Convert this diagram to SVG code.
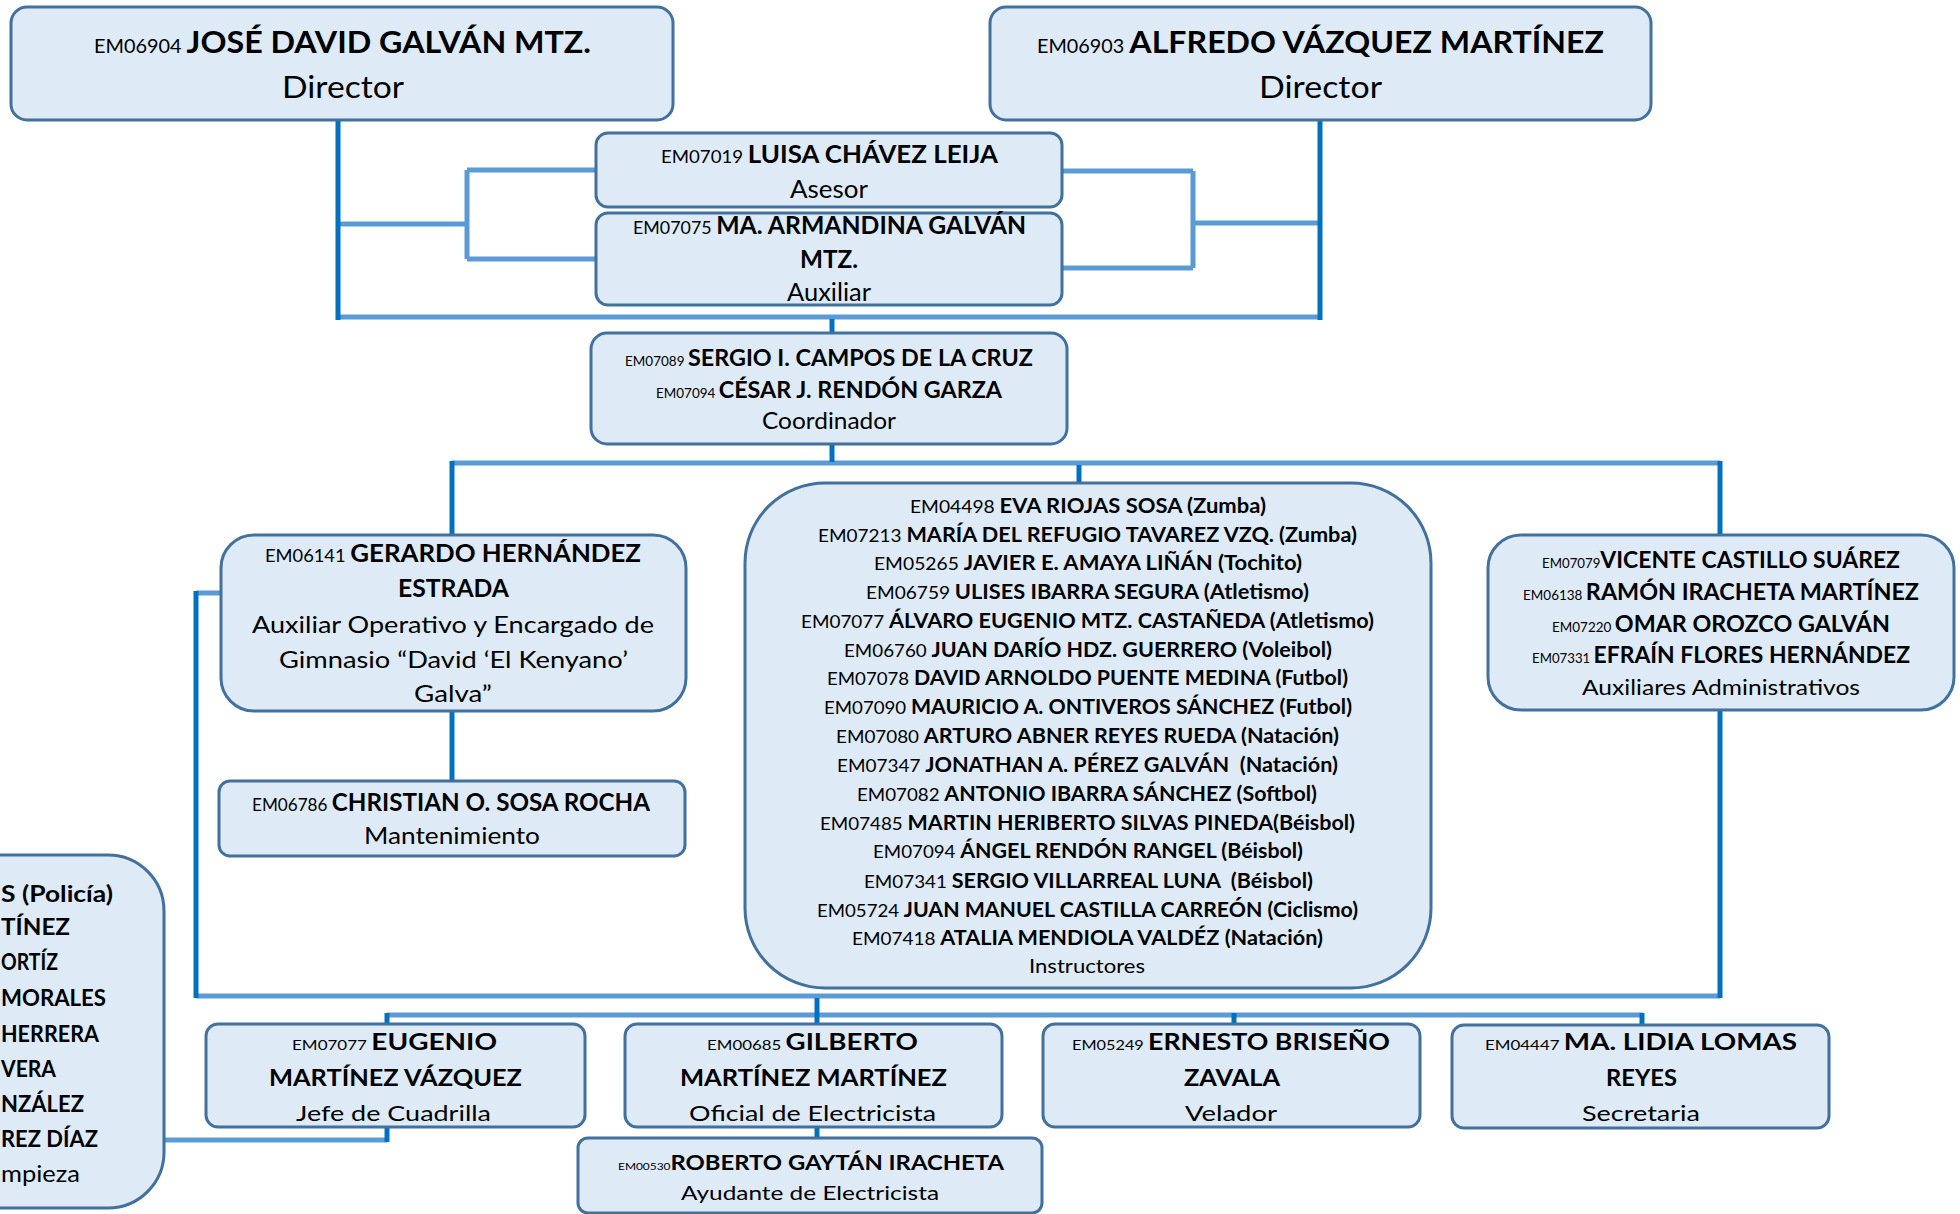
<svg xmlns="http://www.w3.org/2000/svg" width="1960" height="1214" viewBox="0 0 1960 1214">
<style>
.box{fill:#DEEBF7;stroke:#41719C;stroke-width:3}
.dk{stroke:#0070C0;stroke-width:5;fill:none}
.lt{stroke:#5B9BD5;stroke-width:5;fill:none}
text{font-family:Lato,"Open Sans","Liberation Sans",sans-serif;fill:#000}
.b{font-weight:bold}
.s{font-weight:normal}
</style>
<rect width="1960" height="1214" fill="#FFFFFF"/>
<g id="connectors">
<path class="lt" d="M338,317H1320"/>
<path class="lt" d="M338,224H467M467,170V259M467,170H596M467,259H596"/>
<path class="lt" d="M1062,171H1193M1062,268H1193M1193,171V268M1193,223H1320"/>
<path class="lt" d="M452,463H1720"/>
<path class="lt" d="M196,593H221"/>
<path class="lt" d="M196,996H1720"/>
<path class="lt" d="M387,1015H1643"/>
<path class="lt" d="M164,1140H387"/>
<path class="dk" d="M338,121V320"/>
<path class="dk" d="M1320,121V320"/>
<path class="dk" d="M832,319V333"/>
<path class="dk" d="M832,444V462"/>
<path class="dk" d="M1079,465V483"/>
<path class="dk" d="M452,461V535"/>
<path class="dk" d="M452,711V781"/>
<path class="dk" d="M1720,461V535"/>
<path class="dk" d="M1720,710V998"/>
<path class="dk" d="M196,591V998"/>
<path class="dk" d="M817,998V1024"/>
<path class="dk" d="M817,1127V1138"/>
<path class="dk" d="M387,1013V1024"/>
<path class="dk" d="M387,1127V1142"/>
<path class="dk" d="M1234,1013V1024"/>
<path class="dk" d="M1642,1013V1024"/>
</g>
<g id="director1">
<rect class="box" x="11" y="7" width="662" height="113" rx="16"/>
<text x="94" y="53" textLength="497" lengthAdjust="spacingAndGlyphs"><tspan font-size="18.5">EM06904 </tspan><tspan class="b" font-size="30">JOSÉ DAVID GALVÁN MTZ.</tspan></text>
<text x="282" y="98" font-size="30" textLength="122" lengthAdjust="spacingAndGlyphs">Director</text>
</g>
<g id="director2">
<rect class="box" x="990" y="7" width="661" height="113" rx="16"/>
<text x="1037" y="53" textLength="567" lengthAdjust="spacingAndGlyphs"><tspan font-size="18.5">EM06903 </tspan><tspan class="b" font-size="30">ALFREDO VÁZQUEZ MARTÍNEZ</tspan></text>
<text x="1259" y="98" font-size="30" textLength="123" lengthAdjust="spacingAndGlyphs">Director</text>
</g>
<g id="asesor">
<rect class="box" x="596" y="133" width="466" height="74" rx="12"/>
<text x="661" y="163" textLength="337" lengthAdjust="spacingAndGlyphs"><tspan font-size="18">EM07019 </tspan><tspan class="b" font-size="25">LUISA CHÁVEZ LEIJA</tspan></text>
<text x="790" y="198" font-size="25" textLength="78" lengthAdjust="spacingAndGlyphs">Asesor</text>
</g>
<g id="auxiliar">
<rect class="box" x="596" y="213" width="466" height="92" rx="12"/>
<text x="633" y="234" textLength="393" lengthAdjust="spacingAndGlyphs"><tspan font-size="18">EM07075 </tspan><tspan class="b" font-size="25">MA. ARMANDINA GALVÁN</tspan></text>
<text class="b" x="800" y="268" font-size="25" textLength="58" lengthAdjust="spacingAndGlyphs">MTZ.</text>
<text x="787" y="301" font-size="25" textLength="84" lengthAdjust="spacingAndGlyphs">Auxiliar</text>
</g>
<g id="coordinador">
<rect class="box" x="591" y="333" width="476" height="111" rx="16"/>
<text x="625" y="366" textLength="408" lengthAdjust="spacingAndGlyphs"><tspan font-size="13">EM07089 </tspan><tspan class="b" font-size="22.5">SERGIO I. CAMPOS DE LA CRUZ</tspan></text>
<text x="656" y="398" textLength="346" lengthAdjust="spacingAndGlyphs"><tspan font-size="13">EM07094 </tspan><tspan class="b" font-size="22.5">CÉSAR J. RENDÓN GARZA</tspan></text>
<text x="762" y="429" font-size="22.5" textLength="134" lengthAdjust="spacingAndGlyphs">Coordinador</text>
</g>
<g id="gerardo">
<rect class="box" x="221" y="535" width="465" height="176" rx="33"/>
<text x="265" y="562" textLength="376" lengthAdjust="spacingAndGlyphs"><tspan font-size="17">EM06141 </tspan><tspan class="b" font-size="24">GERARDO HERNÁNDEZ</tspan></text>
<text class="b" x="398" y="597" font-size="24" textLength="111" lengthAdjust="spacingAndGlyphs">ESTRADA</text>
<text x="252" y="633" font-size="23" textLength="402" lengthAdjust="spacingAndGlyphs">Auxiliar Operativo y Encargado de</text>
<text x="279" y="668" font-size="23" textLength="349" lengthAdjust="spacingAndGlyphs">Gimnasio “David ‘El Kenyano’</text>
<text x="414" y="702" font-size="23" textLength="78" lengthAdjust="spacingAndGlyphs">Galva”</text>
</g>
<g id="christian">
<rect class="box" x="219" y="781" width="466" height="75" rx="11"/>
<text x="252" y="811" textLength="398" lengthAdjust="spacingAndGlyphs"><tspan font-size="17">EM06786 </tspan><tspan class="b" font-size="24">CHRISTIAN O. SOSA ROCHA</tspan></text>
<text x="364" y="844" font-size="23" textLength="176" lengthAdjust="spacingAndGlyphs">Mantenimiento</text>
</g>
<g id="instructores">
<rect class="box" x="745" y="483" width="686" height="505" rx="80"/>
<text x="910" y="513" textLength="356" lengthAdjust="spacingAndGlyphs"><tspan font-size="17.5">EM04498 </tspan><tspan class="b" font-size="20">EVA RIOJAS SOSA (Zumba)</tspan></text>
<text x="818" y="542" textLength="539" lengthAdjust="spacingAndGlyphs"><tspan font-size="17.5">EM07213 </tspan><tspan class="b" font-size="20">MARÍA DEL REFUGIO TAVAREZ VZQ. (Zumba)</tspan></text>
<text x="874" y="570" textLength="428" lengthAdjust="spacingAndGlyphs"><tspan font-size="17.5">EM05265 </tspan><tspan class="b" font-size="20">JAVIER E. AMAYA LIÑÁN (Tochito)</tspan></text>
<text x="866" y="599" textLength="443" lengthAdjust="spacingAndGlyphs"><tspan font-size="17.5">EM06759 </tspan><tspan class="b" font-size="20">ULISES IBARRA SEGURA (Atletismo)</tspan></text>
<text x="801" y="628" textLength="573" lengthAdjust="spacingAndGlyphs"><tspan font-size="17.5">EM07077 </tspan><tspan class="b" font-size="20">ÁLVARO EUGENIO MTZ. CASTAÑEDA (Atletismo)</tspan></text>
<text x="844" y="657" textLength="488" lengthAdjust="spacingAndGlyphs"><tspan font-size="17.5">EM06760 </tspan><tspan class="b" font-size="20">JUAN DARÍO HDZ. GUERRERO (Voleibol)</tspan></text>
<text x="827" y="685" textLength="521" lengthAdjust="spacingAndGlyphs"><tspan font-size="17.5">EM07078 </tspan><tspan class="b" font-size="20">DAVID ARNOLDO PUENTE MEDINA (Futbol)</tspan></text>
<text x="824" y="714" textLength="528" lengthAdjust="spacingAndGlyphs"><tspan font-size="17.5">EM07090 </tspan><tspan class="b" font-size="20">MAURICIO A. ONTIVEROS SÁNCHEZ (Futbol)</tspan></text>
<text x="836" y="743" textLength="503" lengthAdjust="spacingAndGlyphs"><tspan font-size="17.5">EM07080 </tspan><tspan class="b" font-size="20">ARTURO ABNER REYES RUEDA (Natación)</tspan></text>
<text x="837" y="772" textLength="501" lengthAdjust="spacingAndGlyphs" xml:space="preserve"><tspan font-size="17.5">EM07347 </tspan><tspan class="b" font-size="20">JONATHAN A. PÉREZ GALVÁN  (Natación)</tspan></text>
<text x="857" y="801" textLength="460" lengthAdjust="spacingAndGlyphs"><tspan font-size="17.5">EM07082 </tspan><tspan class="b" font-size="20">ANTONIO IBARRA SÁNCHEZ (Softbol)</tspan></text>
<text x="820" y="830" textLength="535" lengthAdjust="spacingAndGlyphs"><tspan font-size="17.5">EM07485 </tspan><tspan class="b" font-size="20">MARTIN HERIBERTO SILVAS PINEDA(Béisbol)</tspan></text>
<text x="873" y="858" textLength="430" lengthAdjust="spacingAndGlyphs"><tspan font-size="17.5">EM07094 </tspan><tspan class="b" font-size="20">ÁNGEL RENDÓN RANGEL (Béisbol)</tspan></text>
<text x="864" y="888" textLength="449" lengthAdjust="spacingAndGlyphs" xml:space="preserve"><tspan font-size="17.5">EM07341 </tspan><tspan class="b" font-size="20">SERGIO VILLARREAL LUNA  (Béisbol)</tspan></text>
<text x="817" y="917" textLength="541" lengthAdjust="spacingAndGlyphs"><tspan font-size="17.5">EM05724 </tspan><tspan class="b" font-size="20">JUAN MANUEL CASTILLA CARREÓN (Ciclismo)</tspan></text>
<text x="852" y="945" textLength="471" lengthAdjust="spacingAndGlyphs"><tspan font-size="17.5">EM07418 </tspan><tspan class="b" font-size="20">ATALIA MENDIOLA VALDÉZ (Natación)</tspan></text>
<text x="1029" y="973" font-size="18.5" textLength="116" lengthAdjust="spacingAndGlyphs">Instructores</text>
</g>
<g id="auxiliares">
<rect class="box" x="1488" y="535" width="466" height="175" rx="33"/>
<text x="1542" y="568" textLength="358" lengthAdjust="spacingAndGlyphs"><tspan font-size="13">EM07079</tspan><tspan class="b" font-size="22.5">VICENTE CASTILLO SUÁREZ</tspan></text>
<text x="1523" y="600" textLength="396" lengthAdjust="spacingAndGlyphs"><tspan font-size="13">EM06138 </tspan><tspan class="b" font-size="22.5">RAMÓN IRACHETA MARTÍNEZ</tspan></text>
<text x="1552" y="632" textLength="338" lengthAdjust="spacingAndGlyphs"><tspan font-size="13">EM07220 </tspan><tspan class="b" font-size="22.5">OMAR OROZCO GALVÁN</tspan></text>
<text x="1532" y="663" textLength="378" lengthAdjust="spacingAndGlyphs"><tspan font-size="13">EM07331 </tspan><tspan class="b" font-size="22.5">EFRAÍN FLORES HERNÁNDEZ</tspan></text>
<text x="1582" y="695" font-size="21" textLength="278" lengthAdjust="spacingAndGlyphs">Auxiliares Administrativos</text>
</g>
<g id="limpieza">
<rect class="box" x="-300" y="855" width="464" height="353" rx="56"/>
<g class="b" font-size="23">
<text x="1" y="902" textLength="112" lengthAdjust="spacingAndGlyphs">S (Policía)</text>
<text x="1" y="935" textLength="69" lengthAdjust="spacingAndGlyphs">TÍNEZ</text>
<text x="1" y="970" textLength="57" lengthAdjust="spacingAndGlyphs">ORTÍZ</text>
<text x="1" y="1006" textLength="105" lengthAdjust="spacingAndGlyphs">MORALES</text>
<text x="1" y="1042" textLength="98" lengthAdjust="spacingAndGlyphs">HERRERA</text>
<text x="1" y="1077" textLength="55" lengthAdjust="spacingAndGlyphs">VERA</text>
<text x="1" y="1112" textLength="83" lengthAdjust="spacingAndGlyphs">NZÁLEZ</text>
<text x="1" y="1147" textLength="97" lengthAdjust="spacingAndGlyphs">REZ DÍAZ</text>
</g>
<text x="1" y="1182" font-size="23" textLength="79" lengthAdjust="spacingAndGlyphs">mpieza</text>
</g>
<g id="eugenio">
<rect class="box" x="206" y="1024" width="379" height="103" rx="12"/>
<text x="292" y="1050" textLength="205" lengthAdjust="spacingAndGlyphs"><tspan font-size="14">EM07077 </tspan><tspan class="b" font-size="23">EUGENIO</tspan></text>
<text class="b" x="269" y="1086" font-size="23" textLength="253" lengthAdjust="spacingAndGlyphs">MARTÍNEZ VÁZQUEZ</text>
<text x="296" y="1121" font-size="22" textLength="195" lengthAdjust="spacingAndGlyphs">Jefe de Cuadrilla</text>
</g>
<g id="gilberto">
<rect class="box" x="625" y="1024" width="377" height="103" rx="12"/>
<text x="707" y="1050" textLength="211" lengthAdjust="spacingAndGlyphs"><tspan font-size="14">EM00685 </tspan><tspan class="b" font-size="23">GILBERTO</tspan></text>
<text class="b" x="680" y="1086" font-size="23" textLength="267" lengthAdjust="spacingAndGlyphs">MARTÍNEZ MARTÍNEZ</text>
<text x="689" y="1121" font-size="22" textLength="247" lengthAdjust="spacingAndGlyphs">Oficial de Electricista</text>
</g>
<g id="roberto">
<rect class="box" x="578" y="1138" width="464" height="75" rx="10"/>
<text x="618" y="1170" textLength="386" lengthAdjust="spacingAndGlyphs"><tspan font-size="10">EM00530</tspan><tspan class="b" font-size="20">ROBERTO GAYTÁN IRACHETA</tspan></text>
<text x="681" y="1200" font-size="18.5" textLength="258" lengthAdjust="spacingAndGlyphs">Ayudante de Electricista</text>
</g>
<g id="ernesto">
<rect class="box" x="1043" y="1024" width="377" height="103" rx="12"/>
<text x="1072" y="1050" textLength="318" lengthAdjust="spacingAndGlyphs"><tspan font-size="14">EM05249 </tspan><tspan class="b" font-size="23">ERNESTO BRISEÑO</tspan></text>
<text class="b" x="1184" y="1086" font-size="23" textLength="96" lengthAdjust="spacingAndGlyphs">ZAVALA</text>
<text x="1185" y="1121" font-size="22" textLength="92" lengthAdjust="spacingAndGlyphs">Velador</text>
</g>
<g id="lidia">
<rect class="box" x="1452" y="1025" width="377" height="103" rx="12"/>
<text x="1485" y="1050" textLength="312" lengthAdjust="spacingAndGlyphs"><tspan font-size="14">EM04447 </tspan><tspan class="b" font-size="23">MA. LIDIA LOMAS</tspan></text>
<text class="b" x="1606" y="1086" font-size="23" textLength="71" lengthAdjust="spacingAndGlyphs">REYES</text>
<text x="1582" y="1121" font-size="22" textLength="118" lengthAdjust="spacingAndGlyphs">Secretaria</text>
</g>
</svg>
